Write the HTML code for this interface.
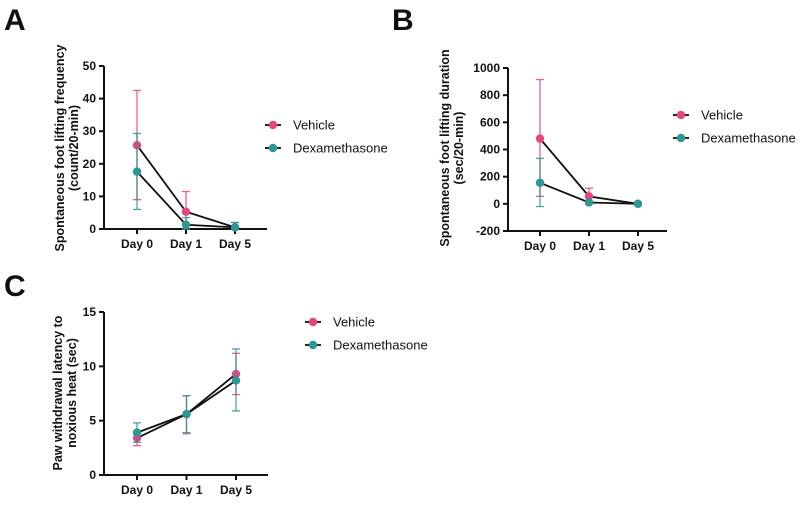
<!DOCTYPE html>
<html><head><meta charset="utf-8"><style>
body{margin:0;background:#fff;width:800px;height:500px;overflow:hidden}
svg{font-family:"Liberation Sans",Arial,sans-serif}
</style></head><body>
<svg id="fig" width="800" height="500"></svg>
<script>
const categories = ["Day 0","Day 1","Day 5"];
const aVehicle = [25.7, 5.3, 0.5];
const aVehicleLo = [9, 0, 0];
const aVehicleHi = [42.5, 11.5, 2];
const aDex = [17.6, 1.3, 0.5];
const aDexLo = [6, 0, 0];
const aDexHi = [29.3, 3.5, 2];
const aTicks = [0,10,20,30,40,50];
const bVehicle = [480, 55, 0];
const bVehicleLo = [55, 0, 0];
const bVehicleHi = [915, 115, 0];
const bDex = [155, 10, 0];
const bDexLo = [-20, 0, 0];
const bDexHi = [335, 20, 0];
const bTicks = [-200,0,200,400,600,800,1000];
const cVehicle = [3.4, 5.6, 9.3];
const cVehicleLo = [2.7, 3.9, 7.4];
const cVehicleHi = [4.0, 7.3, 11.2];
const cDex = [3.9, 5.6, 8.7];
const cDexLo = [3.0, 3.8, 5.9];
const cDexHi = [4.8, 7.3, 11.6];
const cTicks = [0,5,10,15];

const PINK="#e8457c", TEAL="#2a9893";
const svg=document.getElementById('fig');
const NS="http://www.w3.org/2000/svg";
function mk(tag,attrs,parent,text){const e=document.createElementNS(NS,tag);for(const k in attrs)e.setAttribute(k,attrs[k]);if(text!==undefined)e.textContent=text;(parent||svg).appendChild(e);return e;}

function panel(cfg){
  const g=mk('g',{});
  
  
  const y=v=>cfg.y1+(v-cfg.vmin)/(cfg.vmax-cfg.vmin)*(cfg.y0-cfg.y1)*-1+ (cfg.y0-cfg.y1)*0; // placeholder
  const Y=v=>cfg.yBottom-(v-cfg.vmin)/(cfg.vmax-cfg.vmin)*(cfg.yBottom-cfg.yTop);
  const X=i=>cfg.xs[0]+i*(cfg.xs[1]-cfg.xs[0]);
  const L=mk('text',{x:cfg.lx,y:cfg.ly,'font-size':30,'font-weight':'bold',fill:'#111'},g,cfg.letter);
  
  
  // axes
  const ya=mk('line',{x1:cfg.ax,y1:cfg.yTop,x2:cfg.ax,y2:cfg.yBottom,stroke:'#111','stroke-width':2},g);
  
  
  const xa=mk('line',{x1:cfg.ax-1,y1:cfg.xAxisY,x2:cfg.axEnd,y2:cfg.xAxisY,stroke:'#111','stroke-width':2},g);
  
  
  cfg.ticks.forEach(t=>{
    mk('line',{x1:cfg.ax-5,y1:Y(t),x2:cfg.ax,y2:Y(t),stroke:'#111','stroke-width':2},g);
    const tl=mk('text',{x:cfg.ax-8,y:Y(t)+4,'font-size':12,'font-weight':'bold','text-anchor':'end',fill:'#111'},g,t);
    
    
  });
  categories.forEach((c,i)=>{
    mk('line',{x1:X(i),y1:cfg.xAxisY,x2:X(i),y2:cfg.xAxisY+5,stroke:'#111','stroke-width':2},g);
    const tl=mk('text',{x:X(i),y:cfg.xAxisY+19,'font-size':12,'font-weight':'bold','text-anchor':'middle',fill:'#111'},g,c);
    
    
  });
  // title
  const tt=mk('text',{transform:`translate(${cfg.tx},${cfg.ty}) rotate(-90)`,'font-size':12.5,'font-weight':'bold','text-anchor':'middle',fill:'#111'},g);
  
  
  cfg.title.forEach((t,k)=>mk('tspan',{x:0,dy:k?14:0},tt,t));
  // series
  cfg.series.forEach(s=>{
    const sg=mk('g',{},g);
    
    
    s.vals.forEach((v,i)=>{
      const x=X(i);
      mk('line',{x1:x,y1:Y(s.lo[i]),x2:x,y2:Y(s.hi[i]),stroke:s.color,'stroke-width':1.3,opacity:.85},sg);
      mk('line',{x1:x-4,y1:Y(s.lo[i]),x2:x+4,y2:Y(s.lo[i]),stroke:s.color,'stroke-width':1.3,opacity:.85},sg);
      mk('line',{x1:x-4,y1:Y(s.hi[i]),x2:x+4,y2:Y(s.hi[i]),stroke:s.color,'stroke-width':1.3,opacity:.85},sg);
    });
    mk('polyline',{points:s.vals.map((v,i)=>X(i)+','+Y(v)).join(' '),fill:'none',stroke:'#111','stroke-width':1.8},sg);
    s.vals.forEach((v,i)=>{
      const p=mk('circle',{cx:X(i),cy:Y(v),r:4.2,fill:s.color},sg);
      
      
    });
  });
  // legend
  cfg.series.forEach((s,k)=>{
    const ly=cfg.legY+k*23;
    const lg=mk('g',{},g);
    
    
    mk('line',{x1:cfg.legX-8,y1:ly,x2:cfg.legX+8,y2:ly,stroke:'#111','stroke-width':1.8},lg);
    mk('circle',{cx:cfg.legX,cy:ly,r:4.2,fill:s.color},lg);
    mk('text',{x:cfg.legX+20,y:ly+4.5,'font-size':13,fill:'#111'},lg,s.name);
  });
}
panel({id:'a',letter:'A',lx:4,ly:30,ax:104,axEnd:267,yTop:66,yBottom:229,xAxisY:229,vmin:0,vmax:50,ticks:aTicks,xs:[137,186],
  tx:64,ty:148,title:['Spontaneous foot lifting frequency','(count/20-min)'],legX:273,legY:125,
  series:[{name:'Vehicle',color:PINK,vals:aVehicle,lo:aVehicleLo,hi:aVehicleHi},{name:'Dexamethasone',color:TEAL,vals:aDex,lo:aDexLo,hi:aDexHi}]});
panel({id:'b',letter:'B',lx:392,ly:30,ax:508,axEnd:667,yTop:68,yBottom:231,xAxisY:231,vmin:-200,vmax:1000,ticks:bTicks,xs:[540,589],
  tx:449,ty:148,title:['Spontaneous foot lifting duration','(sec/20-min)'],legX:681,legY:115,
  series:[{name:'Vehicle',color:PINK,vals:bVehicle,lo:bVehicleLo,hi:bVehicleHi},{name:'Dexamethasone',color:TEAL,vals:bDex,lo:bDexLo,hi:bDexHi}]});
panel({id:'c',letter:'C',lx:4,ly:296,ax:104,axEnd:268,yTop:312,yBottom:475,xAxisY:475,vmin:0,vmax:15,ticks:cTicks,xs:[137,186.5],
  tx:62,ty:393,title:['Paw withdrawal latency to','noxious heat (sec)'],legX:313,legY:322,
  series:[{name:'Vehicle',color:PINK,vals:cVehicle,lo:cVehicleLo,hi:cVehicleHi},{name:'Dexamethasone',color:TEAL,vals:cDex,lo:cDexLo,hi:cDexHi}]});
</script>
</body></html>
